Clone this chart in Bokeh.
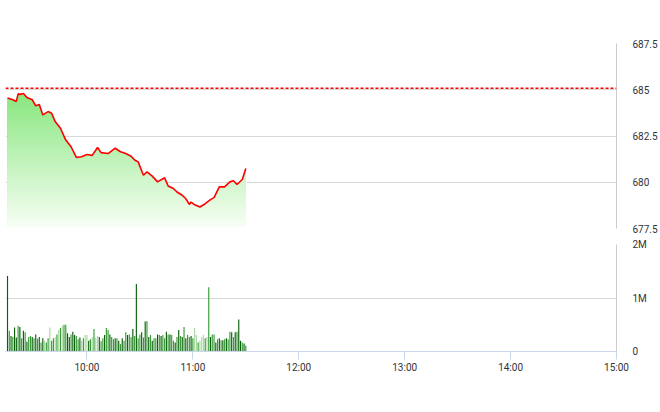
import numpy as np
from bokeh.plotting import figure
from bokeh.layouts import column
from bokeh.models import Range1d, FixedTicker, Span
from bokeh.embed import file_html
from bokeh.resources import INLINE

# ---------------- data ----------------
price_times = ["9:15", "9:18", "9:20", "9:21", "9:22", "9:24", "9:26", "9:29", "9:31", "9:33",
               "9:35", "9:38", "9:40", "9:42", "9:45", "9:48", "9:51", "9:54", "9:57", "10:00",
               "10:03", "10:06", "10:08", "10:12", "10:14", "10:16", "10:19", "10:22", "10:25", "10:27",
               "10:29", "10:32", "10:34", "10:37", "10:40", "10:44", "10:46", "10:49", "10:51", "10:54",
               "10:56", "10:58", "10:59", "11:01", "11:04", "11:07", "11:10", "11:12", "11:15", "11:18",
               "11:21", "11:23", "11:25", "11:28", "11:30"]
prices = [684.55, 684.46, 684.37, 684.78, 684.75, 684.80, 684.58, 684.46, 684.13, 684.20,
          683.64, 683.82, 683.73, 683.28, 682.92, 682.28, 681.92, 681.34, 681.38, 681.50,
          681.45, 681.88, 681.60, 681.55, 681.70, 681.84, 681.65, 681.55, 681.41, 681.20,
          681.10, 680.38, 680.56, 680.33, 680.02, 680.24, 679.80, 679.66, 679.47, 679.30,
          679.11, 678.80, 678.93, 678.78, 678.66, 678.84, 679.06, 679.17, 679.75, 679.75,
          680.02, 680.08, 679.88, 680.15, 680.74]
ref_price = 685.08

vol_start = "9:15"   # one bar per minute
volumes_m = [1.41, 0.39, 0.29, 0.27, 0.45, 0.26, 0.48, 0.46, 0.25, 0.39,
             0.36, 0.18, 0.27, 0.29, 0.27, 0.25, 0.32, 0.24, 0.27, 0.17,
             0.25, 0.20, 0.17, 0.25, 0.45, 0.20, 0.25, 0.27, 0.32, 0.40,
             0.44, 0.48, 0.50, 0.50, 0.34, 0.27, 0.32, 0.37, 0.31, 0.29,
             0.23, 0.26, 0.20, 0.25, 0.31, 0.31, 0.20, 0.23, 0.27, 0.42,
             0.26, 0.29, 0.27, 0.19, 0.25, 0.31, 0.44, 0.40, 0.32, 0.27,
             0.23, 0.25, 0.25, 0.20, 0.14, 0.25, 0.20, 0.36, 0.31, 0.32,
             0.27, 0.42, 0.29, 1.26, 0.25, 0.32, 0.36, 0.26, 0.56, 0.57,
             0.27, 0.31, 0.20, 0.25, 0.25, 0.32, 0.31, 0.29, 0.31, 0.25,
             0.37, 0.32, 0.32, 0.31, 0.20, 0.17, 0.27, 0.40, 0.29, 0.27,
             0.46, 0.25, 0.31, 0.27, 0.29, 0.25, 0.44, 0.31, 0.17, 0.20,
             0.27, 0.31, 0.25, 0.27, 1.20, 0.27, 0.32, 0.32, 0.17, 0.23,
             0.25, 0.21, 0.21, 0.23, 0.25, 0.23, 0.37, 0.36, 0.27, 0.36,
             0.37, 0.60, 0.20, 0.17, 0.15, 0.11]
vol_shades = ("dmdmddmdmd" "mdmmdmdmdm" "dlmmlmmlml" "mlmmddmddm" "mdlmlldmlm"
              "lldmmdmmdm" "mdmdmdmmdm" "mdmdmmdmdm" "dmdmmdmdmm" "dmdmmdmdmd"
              "mdmmdmllml" "llmlmdmmdm" "dmdmdmmdmd" "mddmdm")

price_ticks = [677.5, 680.0, 682.5, 685.0, 687.5]
price_labels = ["677.5", "680", "682.5", "685", "687.5"]
vol_ticks = [0.0, 1e6, 2e6]
vol_labels = ["0", "1M", "2M"]
hour_ticks = [10.0, 11.0, 12.0, 13.0, 14.0, 15.0]
hour_labels = ["10:00", "11:00", "12:00", "13:00", "14:00", "15:00"]

# ---------------- helpers ----------------
def to_h(s):
    h, m = s.split(":")
    return int(h) + int(m) / 60.0

px = np.array([to_h(t) for t in price_times])
py = np.array(prices)
vx = to_h(vol_start) + np.arange(len(volumes_m)) / 60.0
vy = np.array(volumes_m) * 1e6
shade_map = {"d": "#0b5f0b", "m": "#379a37", "l": "#a8d9a0"}
vcolors = [shade_map[c] for c in vol_shades[:len(volumes_m)]]

FONT = "Roboto"
GRID = "#d9d9d9"

x_range = Range1d(9.231, 15.0)

# ---------------- price chart ----------------
p1 = figure(width=660, height=236, x_range=x_range, y_range=Range1d(677.5, 687.5),
            output_backend="svg", toolbar_location=None,
            y_axis_location="right", x_axis_location=None,
            min_border_left=5, min_border_right=44, min_border_top=43, min_border_bottom=8)
p1.outline_line_color = None
p1.background_fill_color = "white"
p1.border_fill_color = "white"
p1.xgrid.visible = False
p1.ygrid.grid_line_color = GRID

# gradient area (painter's layers, light toward the bottom)
base = 677.5
top_col = np.array([135, 230, 125])
bot_col = np.array([250, 255, 248])
levels = np.linspace(685.0, 677.7, 40)
for lv in levels:
    t = (lv - base) / (685.0 - base)
    c = bot_col + (top_col - bot_col) * t
    col = "#%02x%02x%02x" % tuple(int(round(v)) for v in c)
    p1.varea(x=px, y1=base + 0.1, y2=np.minimum(py, lv), fill_color=col, fill_alpha=1.0)

p1.line(px, py, line_color="#ff0000", line_width=1.6)
p1.add_layout(Span(location=ref_price, dimension="width", line_color="#ff0000",
                   line_dash="3 2", line_width=1.5))

ya = p1.yaxis[0]
ya.ticker = FixedTicker(ticks=price_ticks)
ya.major_label_overrides = {k: v for k, v in zip(price_ticks, price_labels)}
ya.axis_line_color = "#cccccc"
ya.major_tick_line_color = None
ya.minor_tick_line_color = None
ya.major_tick_out = 0
ya.major_tick_in = 0
ya.major_label_standoff = 16
ya.major_label_text_font = FONT
ya.major_label_text_font_size = "10px"
ya.major_label_text_color = "#333333"

# ---------------- volume chart ----------------
p2 = figure(width=660, height=145, x_range=x_range, y_range=Range1d(0, 2e6),
            output_backend="svg", toolbar_location=None, y_axis_location="right",
            min_border_left=5, min_border_right=44, min_border_top=8, min_border_bottom=30)
p2.outline_line_color = None
p2.background_fill_color = "white"
p2.border_fill_color = "white"
p2.xgrid.visible = False
p2.ygrid.grid_line_color = GRID

p2.vbar(x=vx, top=vy, width=0.65 / 60.0, fill_color=vcolors, line_color=None)

va = p2.yaxis[0]
va.ticker = FixedTicker(ticks=vol_ticks)
va.major_label_overrides = {k: v for k, v in zip(vol_ticks, vol_labels)}
va.axis_line_color = "#cccccc"
va.major_tick_line_color = None
va.minor_tick_line_color = None
va.major_tick_out = 0
va.major_tick_in = 0
va.major_label_standoff = 16
va.major_label_text_font = FONT
va.major_label_text_font_size = "10px"
va.major_label_text_color = "#333333"

xa = p2.xaxis[0]
xa.ticker = FixedTicker(ticks=hour_ticks)
xa.major_label_overrides = {k: v for k, v in zip(hour_ticks, hour_labels)}
xa.axis_line_color = "#ccd6eb"
xa.major_tick_line_color = "#ccd6eb"
xa.minor_tick_line_color = None
xa.major_tick_out = 8
xa.major_tick_in = 0
xa.major_label_standoff = 2
xa.major_label_text_font = FONT
xa.major_label_text_font_size = "10px"
xa.major_label_text_color = "#333333"

layout = column(p1, p2)
open("out.html", "w").write(file_html(layout, INLINE))
